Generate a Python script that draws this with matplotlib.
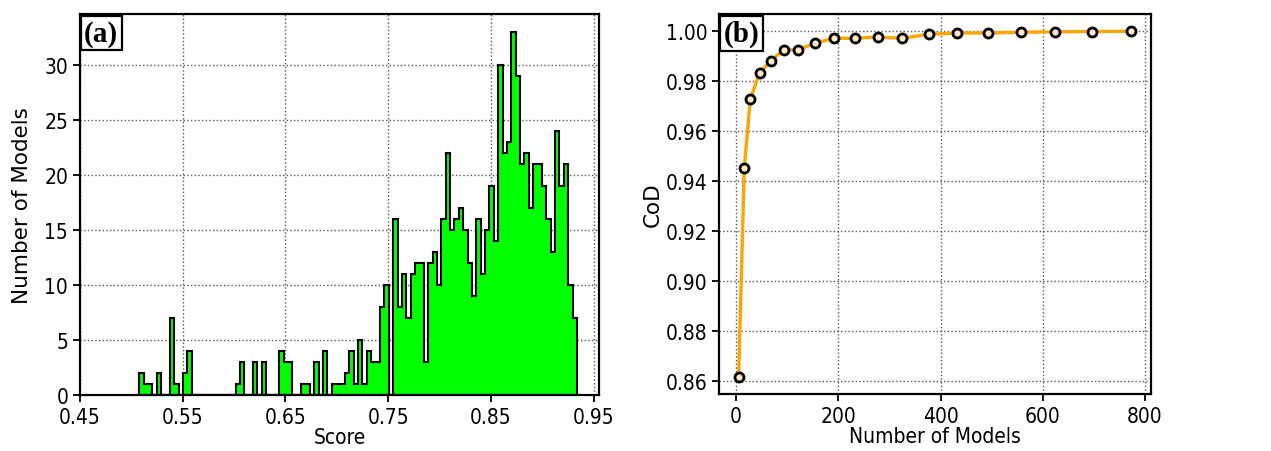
import numpy as np
import matplotlib
matplotlib.use('Agg')
import matplotlib.pyplot as plt

# panel (a): histogram of model scores, 100 bins between the min and max score
SCORE_MIN = 0.5078
SCORE_MAX = 0.9336
bin_counts = [2, 1, 1, 0, 2, 0, 0, 7, 1, 0, 2, 4,
              0, 0, 0, 0, 0, 0, 0, 0, 0, 0,
              1, 3, 0, 0, 3, 0, 3, 0, 0, 0, 4, 3, 3, 0, 0, 1, 1, 0, 3, 0,
              4, 0, 1, 1, 1, 2, 4, 1, 5, 1, 4, 3, 3, 8, 10, 0, 16, 8, 11, 7,
              11, 12, 12, 3, 12, 13, 10, 16, 22, 15, 16, 17, 15, 12, 9, 16, 11, 15,
              19, 14, 30, 22, 23, 33, 29, 21, 22, 17, 21, 21, 19, 16, 13, 24, 19, 21,
              10, 7]

# panel (b): coefficient of determination vs number of models
n_models = [5, 16, 28, 46, 68, 93, 122, 154, 191, 232, 277, 325, 377, 433,
            492, 557, 625, 696, 773]
cod = [0.8618, 0.9452, 0.9729, 0.9834, 0.9882, 0.9926, 0.9926, 0.9952, 0.9972,
       0.9972, 0.9977, 0.9972, 0.9988, 0.9993, 0.9993, 0.9996, 0.9998, 0.9999, 1.0]

score_ticks = [0.45, 0.55, 0.65, 0.75, 0.85, 0.95]
count_ticks = [0, 5, 10, 15, 20, 25, 30]
cod_ticks = [0.86, 0.88, 0.90, 0.92, 0.94, 0.96, 0.98, 1.00]
model_ticks = [0, 200, 400, 600, 800]

plt.rcParams['font.family'] = 'DejaVu Sans'
plt.rcParams['font.stretch'] = 'condensed'
plt.rcParams['axes.linewidth'] = 1.6

fig = plt.figure(figsize=(12.71, 4.52), dpi=100)
ax1 = fig.add_axes([0.0629, 0.1239, 0.4083, 0.843])
ax2 = fig.add_axes([0.5657, 0.1261, 0.3397, 0.8407])

label_box = dict(boxstyle='square,pad=0.12', facecolor='white', edgecolor='black', linewidth=1.6)


def style_axes(ax):
    ax.set_axisbelow(True)
    ax.grid(True, linestyle=':', color='#555555', linewidth=1.0)
    ax.tick_params(direction='out', length=5, width=1.3, labelsize=15)


# (a)
edges = np.linspace(SCORE_MIN, SCORE_MAX, len(bin_counts) + 1)
ax1.hist(edges[:-1], bins=edges, weights=bin_counts, histtype='stepfilled',
         facecolor='#00ff00', edgecolor='black', linewidth=1.5)
ax1.set_xlim(0.45, 0.955)
ax1.set_ylim(0, 34.65)
ax1.set_xticks(score_ticks)
ax1.set_xticklabels(['%.2f' % t for t in score_ticks])
ax1.set_yticks(count_ticks)
ax1.set_xlabel('Score', fontsize=15, labelpad=0)
ax1.set_ylabel('Number of Models', fontsize=15.5, fontstretch='normal', labelpad=9)
style_axes(ax1)
ax1.text(0.008, 0.985, '(a)', transform=ax1.transAxes, ha='left', va='top',
         fontsize=21, fontweight='bold', family='Liberation Serif',
         fontstretch='normal', bbox=label_box)

# (b)
ax2.plot(n_models, cod, color='orange', linewidth=2.4, marker='o', markersize=6.5,
         markerfacecolor='#ffe9c0', markeredgecolor='black', markeredgewidth=2.0)
ax2.set_xticks(model_ticks)
ax2.set_yticks(cod_ticks)
ax2.set_yticklabels(['%.2f' % t for t in cod_ticks])
ax2.set_xlabel('Number of Models', fontsize=15, labelpad=0)
ax2.set_ylabel('CoD', fontsize=15.5, fontstretch='normal', labelpad=2)
style_axes(ax2)
ax2.text(0.01, 0.985, '(b)', transform=ax2.transAxes, ha='left', va='top',
         fontsize=21, fontweight='bold', family='Liberation Serif',
         fontstretch='normal', bbox=label_box)

fig.savefig('out.png', dpi=100)
